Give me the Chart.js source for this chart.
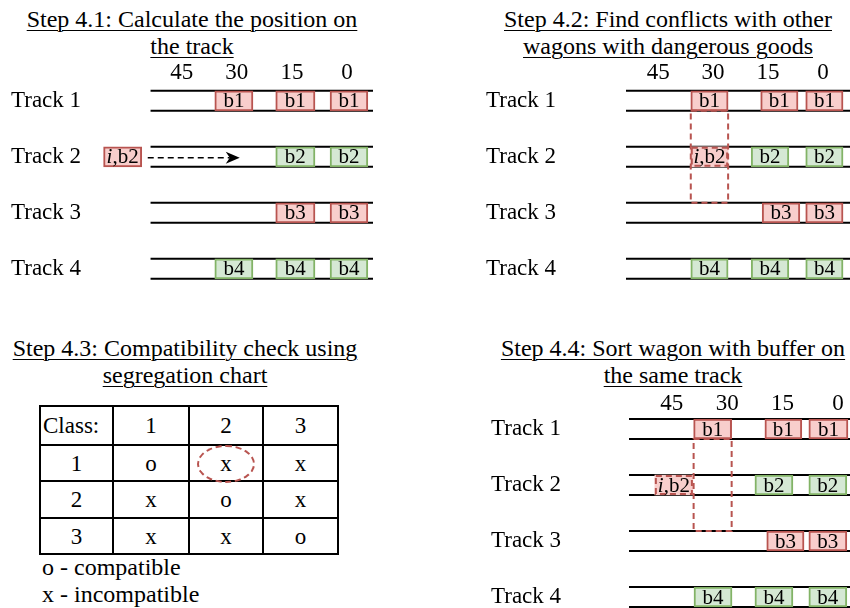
<!DOCTYPE html>
<html>
<head>
<meta charset="utf-8">
<script src="https://cdn.jsdelivr.net/npm/chart.js@4.4.1/dist/chart.umd.min.js"></script>
<style>
  html, body { margin: 0; padding: 0; width: 850px; height: 608px; overflow: hidden; background: #fff; color: #000; font-family: "Liberation Serif", serif; }
  .title { position: absolute; text-align: center; font-size: 24px; line-height: 27px; white-space: nowrap; }
  .title span { text-decoration: underline; text-decoration-thickness: 1px; text-underline-offset: 3px; }
  canvas { position: absolute; }
  #seg { position: absolute; left: 39px; top: 405px; border-collapse: collapse; table-layout: fixed; font-size: 23px; }
  #seg td { border: 2px solid #000; text-align: center; padding: 0; line-height: 1; }
  #seg td.head { text-align: left; padding-left: 2px; }
  #ring { position: absolute; left: 197px; top: 445px; width: 54px; height: 34px; border: 2px dashed #b85450; border-radius: 50%; }
  #legend { position: absolute; left: 42px; top: 554px; font-size: 24px; line-height: 27px; }
</style>
</head>
<body>
<div class="title" style="left:0;top:6px;width:384px"><span>Step 4.1: Calculate the position on</span><br><span>the track</span></div>
<div class="title" style="left:468px;top:6px;width:400px"><span>Step 4.2: Find conflicts with other</span><br><span>wagons with dangerous goods</span></div>
<div class="title" style="left:0;top:335px;width:370px"><span>Step 4.3: Compatibility check using</span><br><span>segregation chart</span></div>
<div class="title" style="left:473px;top:335px;width:400px"><span>Step 4.4: Sort wagon with buffer on</span><br><span>the same track</span></div>

<canvas id="step1" width="362" height="238" style="left:11px;top:56px"></canvas>
<canvas id="step2" width="364" height="238" style="left:486px;top:56px"></canvas>
<canvas id="step4" width="359" height="221" style="left:491px;top:387px"></canvas>

<table id="seg"></table>
<div id="ring"></div>
<div id="legend">o - compatible<br>x - incompatible</div>

<script>
// DATA
const trackNames = ["Track 1", "Track 2", "Track 3", "Track 4"];
const positionTicks = [45, 30, 15, 0];
const dangerousBlocks = ["b1", "b3", "i,b2"];

// [track, front, rear, block, dashed] - position along the track, 0 = track end
const step1Wagons = [
  [0, 25.6, 36.0, "b1"], [0, 8.7, 19.4, "b1"], [0, -5.7, 4.6, "b1"],
  [1, 55.9, 66.3, "i,b2"], [1, 8.7, 19.4, "b2"], [1, -5.7, 4.6, "b2"],
  [2, 8.7, 19.4, "b3"], [2, -5.7, 4.6, "b3"],
  [3, 25.6, 36.0, "b4"], [3, 8.7, 19.4, "b4"], [3, -5.7, 4.6, "b4"],
];
const step2Wagons = [
  [0, 25.9, 36.1, "b1"], [0, 6.8, 17.0, "b1"], [0, -5.5, 4.7, "b1"],
  [1, 25.9, 36.1, "i,b2", true], [1, 9.3, 19.6, "b2"], [1, -5.5, 4.7, "b2"],
  [2, 6.3, 16.6, "b3"], [2, -5.5, 4.7, "b3"],
  [3, 25.9, 36.1, "b4"], [3, 9.3, 19.6, "b4"], [3, -5.5, 4.7, "b4"],
];
const step4Wagons = [
  [0, 28.8, 39.1, "b1"], [0, 9.8, 19.8, "b1"], [0, -2.7, 7.9, "b1"],
  [1, 39.3, 49.6, "i,b2", true], [1, 12.2, 22.5, "b2"], [1, -2.4, 7.9, "b2"],
  [2, 9.2, 19.3, "b3"], [2, -2.4, 7.9, "b3"],
  [3, 28.7, 39.0, "b4"], [3, 12.2, 22.5, "b4"], [3, -2.4, 7.9, "b4"],
];

// [track, from, to] of the incoming move in step 4.1
const step1Arrow = [1, 55.9, 29.2];
// [front, rear, firstTrack, lastTrack] of the conflict zone
const step2Zone = [25.9, 36.1, 0, 2];
const step4Zone = [28.8, 39.1, 0, 2];

// segregation chart
const classes = ["1", "2", "3"];
const compatRows = [
  ["o", "x", "x"],
  ["x", "o", "x"],
  ["x", "x", "o"],
];

// STYLE
const PINK = "#f8cecc";
const RED = "#b85450";
const GREEN = "#d5e8d4";
const GREEN_LINE = "#82b366";
const RAIL_GAP = 10;
const WAGON_FONT = '21px "Liberation Serif"';
const AXIS_FONT = { family: "Liberation Serif", size: 23, lineHeight: 1 };

function isDangerous(raw) {
  return raw && dangerousBlocks.includes(raw.block);
}

function drawBlockLabel(ctx, block, cx, cy) {
  ctx.fillStyle = "#000";
  ctx.textBaseline = "middle";
  if (block.startsWith("i,")) {
    const rest = block.slice(1);
    ctx.font = "italic " + WAGON_FONT;
    const wi = ctx.measureText("i").width;
    ctx.font = WAGON_FONT;
    const wr = ctx.measureText(rest).width;
    const x0 = cx - (wi + wr) / 2;
    ctx.textAlign = "left";
    ctx.font = "italic " + WAGON_FONT;
    ctx.fillText("i", x0, cy + 1);
    ctx.font = WAGON_FONT;
    ctx.fillText(rest, x0 + wi, cy + 1);
  } else {
    ctx.font = WAGON_FONT;
    ctx.textAlign = "center";
    ctx.fillText(block, cx, cy + 1);
  }
}

const trackPlugin = {
  id: "tracks",
  beforeDatasetsDraw(chart, args, opts) {
    const { ctx, chartArea, scales: { x, y } } = chart;
    const left = x.getPixelForValue(opts.railStart);
    ctx.save();
    ctx.strokeStyle = "#000";
    ctx.lineWidth = 2;
    trackNames.forEach((_, t) => {
      const cy = y.getPixelForValue(t);
      [-RAIL_GAP, RAIL_GAP].forEach((d) => {
        ctx.beginPath();
        ctx.moveTo(left, cy + d);
        ctx.lineTo(chartArea.right, cy + d);
        ctx.stroke();
      });
    });
    ctx.restore();
  },
  afterDatasetsDraw(chart, args, opts) {
    const { ctx, scales: { x, y } } = chart;
    const meta = chart.getDatasetMeta(0);
    const raws = chart.data.datasets[0].data;
    ctx.save();

    // conflict zone
    if (opts.zone) {
      const [front, rear, t0, t1] = opts.zone;
      const xl = x.getPixelForValue(rear);
      const xr = x.getPixelForValue(front);
      const yt = y.getPixelForValue(t0) + RAIL_GAP;
      const yb = y.getPixelForValue(t1) - RAIL_GAP;
      ctx.setLineDash([6, 4]);
      ctx.strokeStyle = RED;
      ctx.lineWidth = 2;
      ctx.strokeRect(xl, yt, xr - xl, yb - yt);
    }

    meta.data.forEach((el, i) => {
      const raw = raws[i];
      const l = Math.min(el.x, el.base);
      const r = Math.max(el.x, el.base);
      if (raw.dashed) {
        ctx.setLineDash([6, 4]);
        ctx.strokeStyle = RED;
        ctx.lineWidth = 2;
        ctx.strokeRect(l + 1, el.y - RAIL_GAP + 1, r - l - 2, 2 * RAIL_GAP - 2);
      }
      ctx.setLineDash([]);
      drawBlockLabel(ctx, raw.block, (l + r) / 2, el.y);
    });

    // incoming move
    if (opts.arrow) {
      const [t, from, to] = opts.arrow;
      const cy = y.getPixelForValue(t) + 1;
      const x0 = x.getPixelForValue(from) + 6;
      const tip = x.getPixelForValue(to);
      ctx.strokeStyle = "#000";
      ctx.lineWidth = 1.5;
      ctx.setLineDash([6, 4]);
      ctx.beginPath();
      ctx.moveTo(x0, cy);
      ctx.lineTo(tip - 10, cy);
      ctx.stroke();
      ctx.setLineDash([]);
      ctx.fillStyle = "#000";
      ctx.beginPath();
      ctx.moveTo(tip, cy);
      ctx.lineTo(tip - 14, cy - 6);
      ctx.lineTo(tip - 10, cy);
      ctx.lineTo(tip - 14, cy + 6);
      ctx.closePath();
      ctx.fill();
    }
    ctx.restore();
  },
};

function makeTrackChart(id, wagons, cfg) {
  const canvas = document.getElementById(id);
  return new Chart(canvas, {
    type: "bar",
    data: {
      datasets: [
        {
          data: wagons.map((w) => ({ x: [w[1], w[2]], y: w[0], block: w[3], dashed: !!w[4] })),
          backgroundColor: (c) => (isDangerous(c.raw) ? PINK : GREEN),
          borderColor: (c) => (isDangerous(c.raw) ? RED : GREEN_LINE),
          borderWidth: (c) => (c.raw && c.raw.dashed ? 0 : 2),
          borderSkipped: false,
          barThickness: 2 * RAIL_GAP,
        },
      ],
    },
    options: {
      indexAxis: "y",
      responsive: false,
      animation: false,
      layout: { padding: 0 },
      scales: {
        x: {
          type: "linear",
          reverse: true,
          position: "top",
          offset: false,
          min: cfg.xMin,
          max: cfg.xMax,
          afterBuildTicks: (s) => {
            s.ticks = positionTicks.map((v) => ({ value: v }));
          },
          afterFit: (s) => {
            s.height = 28;
            s.paddingLeft = 0;
            s.paddingRight = 0;
          },
          grid: { display: false, drawTicks: false },
          border: { display: false },
          ticks: { font: AXIS_FONT, color: "#000", padding: 0, maxRotation: 0, autoSkip: false },
        },
        y: {
          type: "linear",
          reverse: true,
          offset: false,
          min: cfg.yMin,
          max: cfg.yMax,
          afterBuildTicks: (s) => {
            s.ticks = trackNames.map((_, i) => ({ value: i }));
          },
          afterFit: (s) => {
            s.width = cfg.axisWidth;
            s.paddingTop = 0;
            s.paddingBottom = 0;
          },
          grid: { display: false, drawTicks: false, offset: false },
          border: { display: false },
          ticks: {
            callback: (v) => trackNames[v],
            crossAlign: "far",
            padding: 0,
            autoSkip: false,
            font: AXIS_FONT,
            color: "#000",
          },
        },
      },
      plugins: {
        legend: { display: false },
        tooltip: { enabled: false },
        tracks: { railStart: cfg.railStart, zone: cfg.zone, arrow: cfg.arrow },
      },
    },
    plugins: [trackPlugin],
  });
}

// SEGREGATION TABLE
function buildTable() {
  const table = document.getElementById("seg");
  const colWidths = [73, 76, 74, 75];
  const rowHeights = [39, 36, 37, 36];
  let html = "<colgroup>" + colWidths.map((w) => `<col style="width:${w}px">`).join("") + "</colgroup>";
  html += `<tr style="height:${rowHeights[0]}px"><td class="head">Class:</td>` +
    classes.map((c) => `<td>${c}</td>`).join("") + "</tr>";
  compatRows.forEach((row, i) => {
    html += `<tr style="height:${rowHeights[i + 1]}px"><td>${classes[i]}</td>` +
      row.map((v) => `<td>${v}</td>`).join("") + "</tr>";
  });
  table.innerHTML = html;
}

buildTable();

makeTrackChart("step1", step1Wagons, {
  xMin: -7.1, xMax: 67, yMin: -0.3, yMax: 3.45, axisWidth: 90,
  railStart: 53.5, arrow: step1Arrow,
});
makeTrackChart("step2", step2Wagons, {
  xMin: -7.4, xMax: 53.8, yMin: -0.3, yMax: 3.45, axisWidth: 140,
  railStart: 53.8, zone: step2Zone,
});
makeTrackChart("step4", step4Wagons, {
  xMin: -3.25, xMax: 56.6, yMin: -0.25, yMax: 3.196, axisWidth: 138,
  railStart: 56.6, zone: step4Zone,
});
</script>
</body>
</html>
